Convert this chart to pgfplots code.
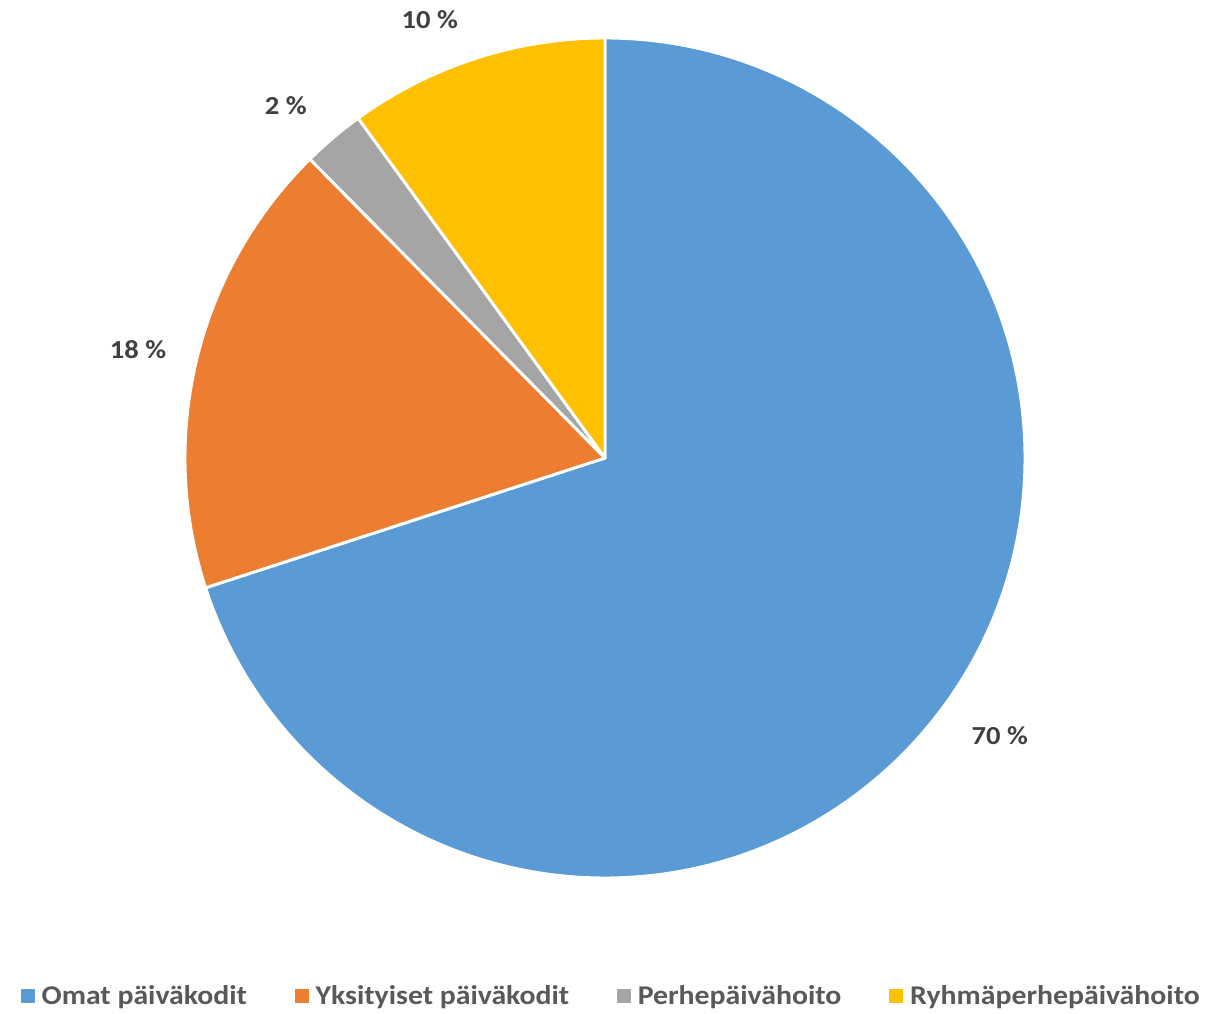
\documentclass[border=0pt]{standalone}
\usepackage{fontspec}
\setmainfont{Carlito}[FakeStretch=1.1]
\usepackage{pgfplots}
\usepackage{pgfplotstable}
\pgfplotsset{compat=1.18}
\definecolor{cblue}{HTML}{5B9BD5}
\definecolor{corange}{HTML}{ED7D31}
\definecolor{cgray}{HTML}{A5A5A5}
\definecolor{cyellow}{HTML}{FFC000}
\definecolor{labgray}{HTML}{404040}
\definecolor{leggray}{HTML}{595959}

\pgfplotstableread{
value
70.0
17.6
2.4
10.0
}\piedata

\begin{document}
\begin{tikzpicture}
\useasboundingbox (0,0) rectangle (910.5pt,760.5pt);
\pgfplotstablegetelem{0}{value}\of\piedata \pgfmathsetmacro{\va}{\pgfplotsretval}
\pgfplotstablegetelem{1}{value}\of\piedata \pgfmathsetmacro{\vb}{\pgfplotsretval}
\pgfplotstablegetelem{2}{value}\of\piedata \pgfmathsetmacro{\vc}{\pgfplotsretval}
\pgfplotstablegetelem{3}{value}\of\piedata \pgfmathsetmacro{\vd}{\pgfplotsretval}
\pgfmathsetmacro{\aa}{90}
\pgfmathsetmacro{\ab}{\aa-3.6*\va}
\pgfmathsetmacro{\ac}{\ab-3.6*\vb}
\pgfmathsetmacro{\ad}{\ac-3.6*\vc}
\pgfmathsetmacro{\ae}{\ad-3.6*\vd}
\begin{axis}[
  at={(453.75pt,417pt)}, anchor=center,
  x=315pt, y=315pt,
  xmin=-1, xmax=1, ymin=-1, ymax=1,
  hide axis,
  clip=false,
  legend columns=4,
  legend style={draw=none, fill=none, at={(0.508,-0.14)}, anchor=center,
    font=\fontsize{20.3}{24}\selectfont\bfseries, text=leggray,
    /tikz/every even column/.append style={column sep=34pt}},
  legend image code/.code={\fill[#1, draw=none] (0pt,-5.25pt) rectangle (10.5pt,5.25pt); \path[draw=none, fill=none] (0pt,0pt) -- (13.5pt,0pt);},
]
\addlegendimage{fill=cblue}
\addlegendentry{Omat päiväkodit}
\addlegendimage{fill=corange}
\addlegendentry{Yksityiset päiväkodit}
\addlegendimage{fill=cgray}
\addlegendentry{Perhepäivähoito}
\addlegendimage{fill=cyellow}
\addlegendentry{Ryhmäperhepäivähoito}

\filldraw[fill=cblue, draw=white, line width=2.2pt, line join=round]
  (axis cs:0,0) -- (axis cs:{cos(\aa)},{sin(\aa)}) arc[start angle=\aa, end angle=\ab, radius=315pt] -- cycle;
\filldraw[fill=corange, draw=white, line width=2.2pt, line join=round]
  (axis cs:0,0) -- (axis cs:{cos(\ab)},{sin(\ab)}) arc[start angle=\ab, end angle=\ac, radius=315pt] -- cycle;
\filldraw[fill=cgray, draw=white, line width=2.2pt, line join=round]
  (axis cs:0,0) -- (axis cs:{cos(\ac)},{sin(\ac)}) arc[start angle=\ac, end angle=\ad, radius=315pt] -- cycle;
\filldraw[fill=cyellow, draw=white, line width=2.2pt, line join=round]
  (axis cs:0,0) -- (axis cs:{cos(\ad)},{sin(\ad)}) arc[start angle=\ad, end angle=\ae, radius=315pt] -- cycle;

\node[font=\fontsize{19.5}{23}\selectfont\bfseries, text=labgray] at (axis cs:0.940,-0.660) {70 \%};
\node[font=\fontsize{19.5}{23}\selectfont\bfseries, text=labgray] at (axis cs:-1.112,0.257) {18 \%};
\node[font=\fontsize{19.5}{23}\selectfont\bfseries, text=labgray] at (axis cs:-0.760,0.840) {2 \%};
\node[font=\fontsize{19.5}{23}\selectfont\bfseries, text=labgray] at (axis cs:-0.417,1.043) {10 \%};
\end{axis}
\end{tikzpicture}
\end{document}
